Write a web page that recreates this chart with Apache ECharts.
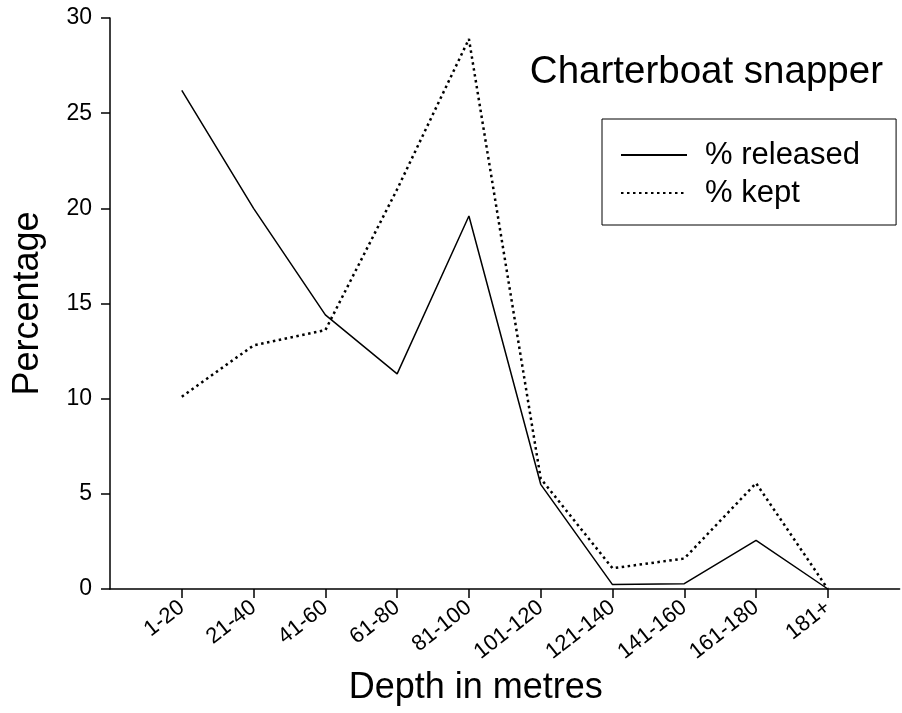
<!DOCTYPE html>
<html>
<head>
<meta charset="utf-8">
<script src="https://cdn.jsdelivr.net/npm/echarts@6/dist/echarts.min.js"></script>
<style>
html,body{margin:0;padding:0;background:#fff;}
#chart{width:902px;height:713px;}
</style>
</head>
<body>
<div id="chart"></div>
<script>
// Categories (blank entries pad the axis at both ends)
var categories = ['', '1-20', '21-40', '41-60', '61-80', '81-100', '101-120', '121-140', '141-160', '161-180', '181+', ''];
var released = [null, 26.2, 20.0, 14.4, 11.3, 19.6, 5.5, 0.23, 0.28, 2.56, 0, null];
var kept = [null, 10.1, 12.8, 13.6, 21.0, 28.9, 5.8, 1.09, 1.6, 5.56, 0, null];
var yTicks = { min: 0, max: 30, interval: 5 };

var FONT = '"Liberation Sans", Arial, Helvetica, sans-serif';
var chart = echarts.init(document.getElementById('chart'), null, { renderer: 'canvas' });
chart.setOption({
  animation: false,
  backgroundColor: '#ffffff',
  title: {
    text: 'Charterboat snapper',
    right: 14,
    top: 48,
    textStyle: { fontFamily: FONT, fontSize: 38.5, fontWeight: 'normal', color: '#000' }
  },
  legend: {
    left: 602,
    top: 119,
    orient: 'vertical',
    borderColor: '#000',
    borderWidth: 1,
    padding: [19, 36, 15, 18],
    itemGap: 4,
    itemWidth: 66,
    itemHeight: 14,
    itemStyle: { opacity: 0 },
    textStyle: { fontFamily: FONT, fontSize: 31, color: '#000', lineHeight: 34, padding: [0, 0, 0, 13] },
    data: ['% released', '% kept']
  },
  grid: { left: 110, right: 0, top: 18, bottom: 124, containLabel: false },
  xAxis: {
    type: 'category',
    data: categories,
    boundaryGap: false,
    name: 'Depth in metres',
    nameLocation: 'middle',
    nameGap: 76,
    nameTextStyle: { fontFamily: FONT, fontSize: 36, color: '#000', padding: [0, 58, 0, 0] },
    axisLine: { lineStyle: { color: '#000', width: 1.5 } },
    axisTick: {
      length: 9,
      lineStyle: { color: '#000', width: 1.5 },
      interval: function (i, v) { return v !== ''; }
    },
    axisLabel: {
      rotate: 38,
      margin: 16,
      interval: 0,
      fontFamily: FONT,
      fontSize: 22,
      color: '#000'
    },
    splitLine: { show: false }
  },
  yAxis: {
    type: 'value',
    min: yTicks.min,
    max: yTicks.max,
    interval: yTicks.interval,
    name: 'Percentage',
    nameLocation: 'middle',
    nameGap: 64,
    nameTextStyle: { fontFamily: FONT, fontSize: 36, color: '#000' },
    axisLine: { show: true, lineStyle: { color: '#000', width: 1.5 } },
    axisTick: { show: true, length: 9, lineStyle: { color: '#000', width: 1.5 } },
    axisLabel: { margin: 18, fontFamily: FONT, fontSize: 23, color: '#000' },
    splitLine: { show: false }
  },
  series: [
    {
      name: '% released',
      type: 'line',
      data: released,
      symbol: 'none',
      connectNulls: false,
      lineStyle: { color: '#000', width: 1.5, type: 'solid' },
      itemStyle: { color: '#000' }
    },
    {
      name: '% kept',
      type: 'line',
      data: kept,
      symbol: 'none',
      connectNulls: false,
      lineStyle: { color: '#000', width: 2.5, type: [2.5, 3.5] },
      itemStyle: { color: '#000' }
    }
  ]
});
</script>
</body>
</html>
